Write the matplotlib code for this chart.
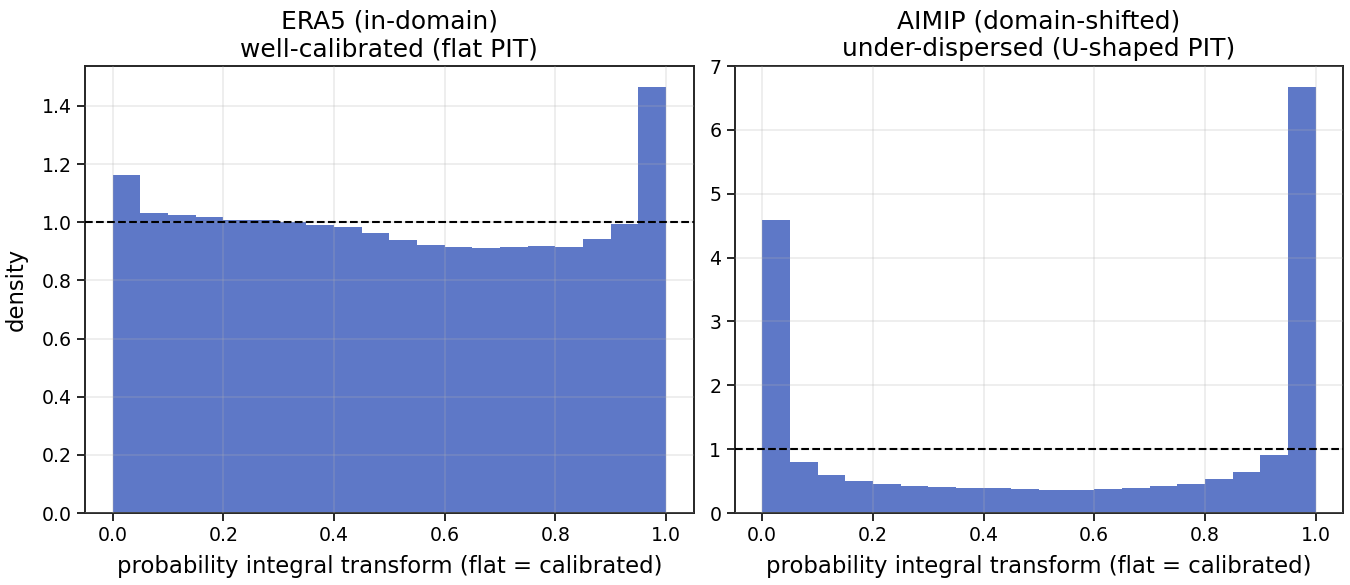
import numpy as np
import matplotlib.pyplot as plt

# PIT histogram densities, 20 bins on [0, 1]
era5_density = [1.161, 1.031, 1.024, 1.017, 1.009, 1.009, 1.002, 0.991, 0.983, 0.962,
                0.938, 0.921, 0.914, 0.911, 0.914, 0.917, 0.914, 0.942, 0.993, 1.464]
aimip_density = [4.585, 0.798, 0.595, 0.500, 0.454, 0.423, 0.407, 0.391, 0.391, 0.376,
                 0.360, 0.360, 0.376, 0.391, 0.423, 0.454, 0.532, 0.642, 0.908, 6.670]

titles = ["ERA5 (in-domain)\nwell-calibrated (flat PIT)",
          "AIMIP (domain-shifted)\nunder-dispersed (U-shaped PIT)"]

edges = np.linspace(0, 1, len(era5_density) + 1)
width = edges[1] - edges[0]

fig, axes = plt.subplots(1, 2, figsize=(13.5, 5.85), dpi=100)
fig.subplots_adjust(left=0.063, right=0.995, top=0.887, bottom=0.123, wspace=0.067)

for ax, dens, title in zip(axes, [era5_density, aimip_density], titles):
    ax.bar(edges[:-1], dens, width=width, align="edge", color="#4261be", alpha=0.85, zorder=2)
    ax.axhline(1.0, color="black", ls="--", lw=1.5, zorder=4)
    ax.grid(True, color="#b0b0b0", alpha=0.25, lw=1.2, zorder=3)
    ax.set_axisbelow(False)
    ax.set_title(title, fontsize=17.9, pad=7)
    ax.set_xlabel("probability integral transform (flat = calibrated)", fontsize=16.4, labelpad=7)
    ax.tick_params(labelsize=13.6, length=6, width=1.4, color="#262626")
    for s in ax.spines.values():
        s.set_color("#262626")
        s.set_linewidth(1.4)
    ax.set_xticks([0.0, 0.2, 0.4, 0.6, 0.8, 1.0])

axes[0].set_ylabel("density", fontsize=16.4, labelpad=10)
axes[0].set_ylim(0, 1.537)
axes[1].set_ylim(0, 7)

fig.savefig("out.png")
